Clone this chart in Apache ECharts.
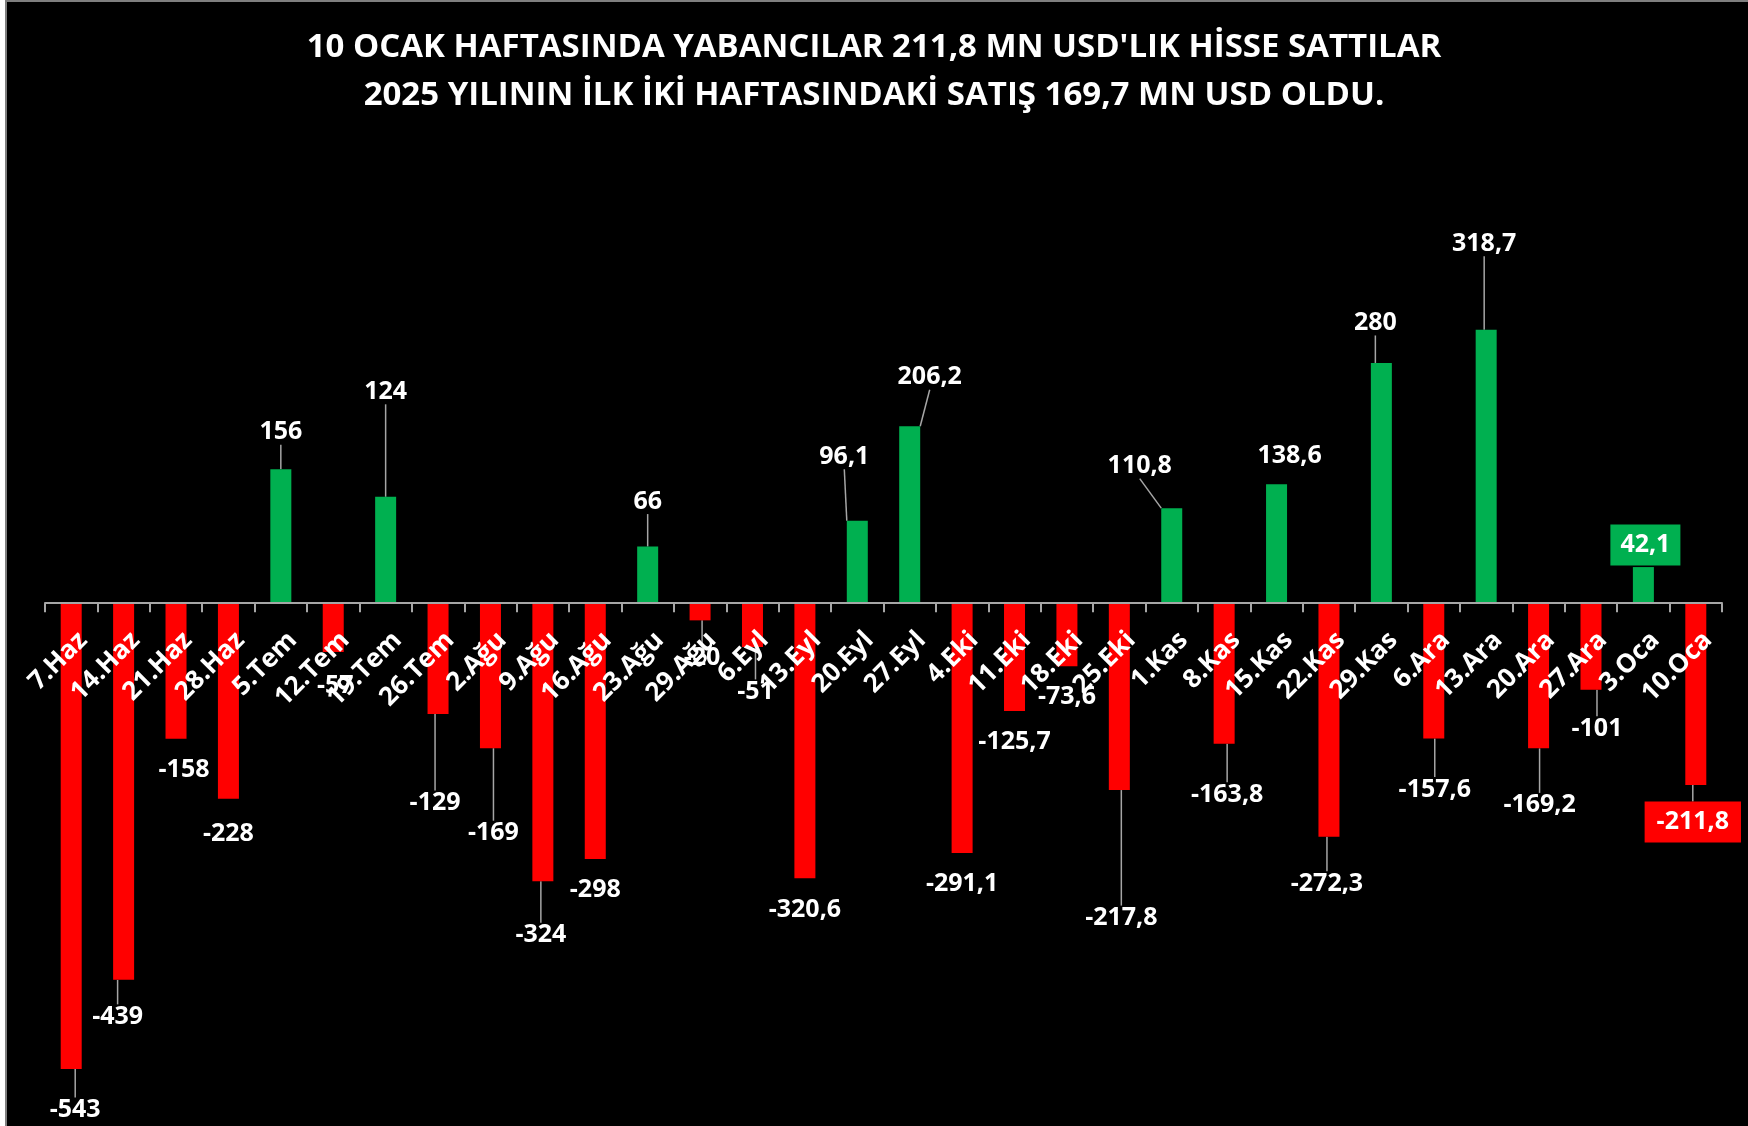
<!DOCTYPE html>
<html>
<head>
<meta charset="utf-8">
<script src="https://cdn.jsdelivr.net/npm/echarts@6/dist/echarts.min.js"></script>
<style>
  html, body { margin: 0; padding: 0; background: #fff; }
  #chart { width: 1748px; height: 1126px; }
</style>
</head>
<body>
<div id="chart"></div>
<script>
// haftalık yabancı hisse akımı (mn USD)
var weekLabels = ['7.Haz', '14.Haz', '21.Haz', '28.Haz', '5.Tem', '12.Tem', '19.Tem', '26.Tem',
  '2.Ağu', '9.Ağu', '16.Ağu', '23.Ağu', '29.Ağu', '6.Eyl', '13.Eyl', '20.Eyl', '27.Eyl',
  '4.Eki', '11.Eki', '18.Eki', '25.Eki', '1.Kas', '8.Kas', '15.Kas', '22.Kas', '29.Kas',
  '6.Ara', '13.Ara', '20.Ara', '27.Ara', '3.Oca', '10.Oca'];
var flowValues = [-543, -439, -158, -228, 156, -57, 124, -129,
  -169, -324, -298, 66, -20, -51, -320.6, 96.1, 206.2,
  -291.1, -125.7, -73.6, -217.8, 110.8, -163.8, 138.6, -272.3, 280,
  -157.6, 318.7, -169.2, -101, 42.1, -211.8];

// etiketlerin çubuk ucuna göre kaydırılması [dx, dy]
var labelShift = [[4, 41], [-6, 37], [8, 31], [0, 35], [0, -37], [2, 34], [0, -105], [-3, 89],
  [3, 85], [-2, 54], [0, 31], [0, -45], [2, 38], [3, 45], [0, 32], [-13, -64], [20, -49],
  [0, 31], [0, 31], [0, 31], [2, 128], [-32, -42], [3, 51], [13, -28], [-2, 47], [-6, -40],
  [1, 51], [-2, -86], [1, 57], [6, 39], [2, -22], [-3, 37]];

var chart = echarts.init(document.getElementById('chart'));

var fmt = function (v) { return String(v).replace('.', ','); };

var seriesData = flowValues.map(function (v, i) {
  var item = {
    value: v,
    itemStyle: { color: v >= 0 ? '#00B050' : '#FF0000' },
    labelLine: { show: Math.abs(labelShift[i][1]) >= 36 }
  };
  if (i === flowValues.length - 2) {
    item.label = { backgroundColor: '#00B050', padding: [8, 10] };
  }
  if (i === flowValues.length - 1) {
    item.label = { backgroundColor: '#FF0000', padding: [8, 12] };
  }
  return item;
});

// kategori etiketleri sıfır çizgisinde dursun diye 0 noktaları
var axisAnchors = weekLabels.map(function () { return 0; });

var option = {
  backgroundColor: '#fff',
  graphic: [{
    type: 'rect',
    z: -10,
    shape: { x: 6, y: 1, width: 1800, height: 1200 },
    style: { fill: '#000', stroke: '#7f7f7f', lineWidth: 2 }
  }],
  title: {
    text: "10 OCAK HAFTASINDA YABANCILAR 211,8 MN USD'LIK HİSSE SATTILAR\n2025 YILININ İLK İKİ HAFTASINDAKİ SATIŞ 169,7 MN USD OLDU.",
    left: 'center',
    top: 19,
    padding: [5, 5, 5, 19],
    textStyle: {
      color: '#fff',
      fontFamily: 'Open Sans',
      fontWeight: 'bold',
      fontSize: 33,
      lineHeight: 48
    }
  },
  grid: { left: 45, right: 26, top: 260, bottom: 8, outerBoundsMode: 'none', containLabel: false },
  xAxis: {
    type: 'category',
    data: weekLabels,
    z: 5,
    axisLine: { onZero: true, lineStyle: { color: '#a6a6a6', width: 2 } },
    axisTick: { show: true, length: 9, lineStyle: { color: '#a6a6a6', width: 2 } },
    axisLabel: { show: false }
  },
  yAxis: {
    type: 'value',
    min: -600,
    max: 400,
    show: false,
    splitLine: { show: false }
  },
  series: [{
    type: 'bar',
    barWidth: 21,
    data: seriesData,
    label: {
      show: true,
      color: '#fff',
      fontFamily: 'Open Sans',
      fontWeight: 'bold',
      fontSize: 25,
      formatter: function (p) { return fmt(p.value); }
    },
    labelLine: { show: true, lineStyle: { color: '#a6a6a6', width: 1.5 } },
    labelLayout: function (p) {
      var i = p.dataIndex;
      var r = p.rect;
      var endY = flowValues[i] >= 0 ? r.y : r.y + r.height;
      return {
        x: r.x + r.width / 2 + labelShift[i][0],
        y: endY + labelShift[i][1],
        align: 'center',
        verticalAlign: 'middle'
      };
    }
  }, {
    type: 'scatter',
    z: 6,
    data: axisAnchors,
    symbolSize: 1,
    itemStyle: { color: 'rgba(0,0,0,0)', opacity: 1 },
    silent: true,
    label: {
      show: true,
      opacity: 1,
      color: '#ffffff',
      textBorderWidth: 0,
      fontFamily: 'Open Sans',
      fontWeight: 'bold',
      fontSize: 26,
      formatter: function (p) { return weekLabels[p.dataIndex]; }
    },
    labelLayout: function (p) {
      var r = p.rect;
      return {
        x: r.x + r.width / 2 + 12,
        y: r.y + r.height / 2 + 33,
        rotate: 45,
        align: 'right',
        verticalAlign: 'middle'
      };
    }
  }]
};

chart.setOption(option);
</script>
</body>
</html>
